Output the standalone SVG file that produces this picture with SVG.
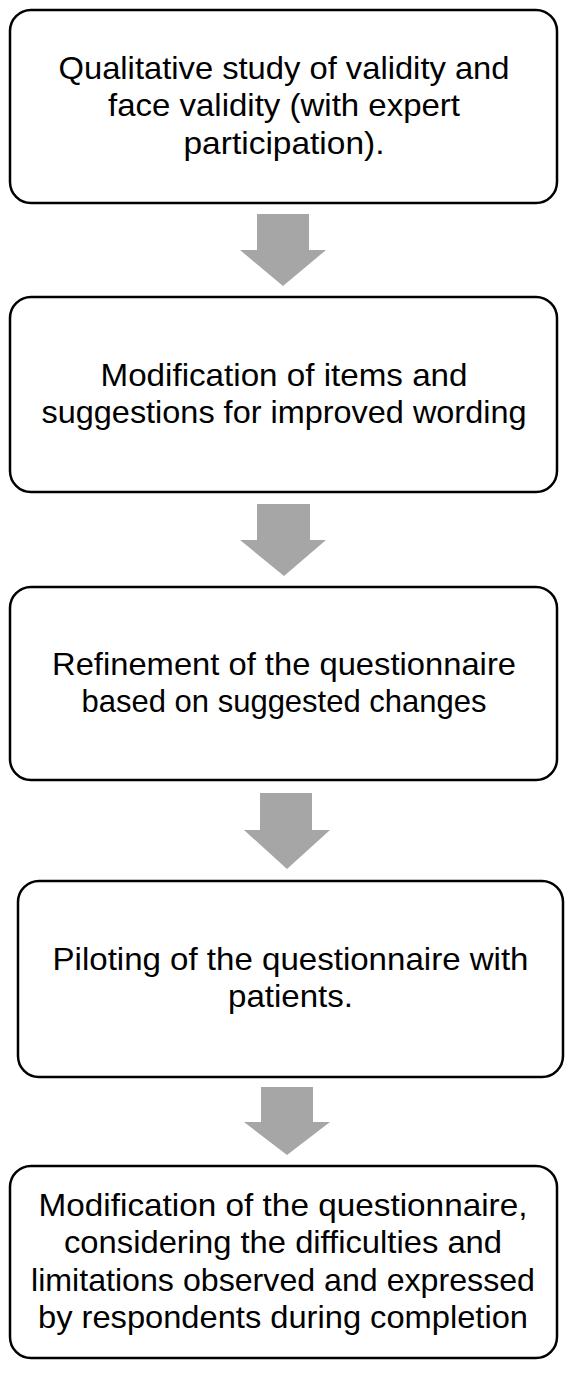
<svg xmlns="http://www.w3.org/2000/svg" width="572" height="1387" viewBox="0 0 572 1387">
<style>
.box{fill:#ffffff;stroke:#000000;stroke-width:2.5}
.lbl{font-family:"Liberation Sans",Arial,sans-serif;font-size:32px;fill:#000000;text-anchor:middle}
.arr{fill:#a6a6a6;stroke:none}
</style>
<rect x="0" y="0" width="572" height="1387" fill="#ffffff"/>
<g id="node1">
<rect class="box" x="10" y="10" width="547" height="193" rx="21"/>
<text class="lbl" x="284" y="78.5" textLength="451" lengthAdjust="spacingAndGlyphs">Qualitative study of validity and</text>
<text class="lbl" x="284" y="116" textLength="352" lengthAdjust="spacingAndGlyphs">face validity (with expert</text>
<text class="lbl" x="284" y="153.5" textLength="201" lengthAdjust="spacingAndGlyphs">participation).</text>
</g>
<g id="node2">
<rect class="box" x="10" y="297" width="547" height="195" rx="21"/>
<text class="lbl" x="284" y="385.5" textLength="367" lengthAdjust="spacingAndGlyphs">Modification of items and</text>
<text class="lbl" x="284" y="422.5" textLength="485" lengthAdjust="spacingAndGlyphs">suggestions for improved wording</text>
</g>
<g id="node3">
<rect class="box" x="10" y="587" width="547" height="193" rx="21"/>
<text class="lbl" x="284" y="674.5" textLength="464" lengthAdjust="spacingAndGlyphs">Refinement of the questionnaire</text>
<text class="lbl" x="284" y="711.5" textLength="405" lengthAdjust="spacingAndGlyphs">based on suggested changes</text>
</g>
<g id="node4">
<rect class="box" x="18" y="881" width="545" height="196" rx="21"/>
<text class="lbl" x="290.5" y="970" textLength="476" lengthAdjust="spacingAndGlyphs">Piloting of the questionnaire with</text>
<text class="lbl" x="290.5" y="1007" textLength="125" lengthAdjust="spacingAndGlyphs">patients.</text>
</g>
<g id="node5">
<rect class="box" x="10" y="1166" width="547" height="192" rx="21"/>
<text class="lbl" x="283" y="1215.5" textLength="489" lengthAdjust="spacingAndGlyphs">Modification of the questionnaire,</text>
<text class="lbl" x="283" y="1253" textLength="438" lengthAdjust="spacingAndGlyphs">considering the difficulties and</text>
<text class="lbl" x="283" y="1290.5" textLength="504" lengthAdjust="spacingAndGlyphs">limitations observed and expressed</text>
<text class="lbl" x="283" y="1327.5" textLength="490" lengthAdjust="spacingAndGlyphs">by respondents during completion</text>
</g>
<g id="connectors">
<polygon class="arr" points="257,214 309,214 309,250 326,250 283,286 240,250 257,250"/>
<polygon class="arr" points="257,504 310,504 310,540 326,540 284,576 240,540 257,540"/>
<polygon class="arr" points="260,793 312,793 312,830 330,830 287,869 244,830 260,830"/>
<polygon class="arr" points="261,1087 313,1087 313,1122 330,1122 287,1155 244,1122 261,1122"/>
</g>
</svg>
